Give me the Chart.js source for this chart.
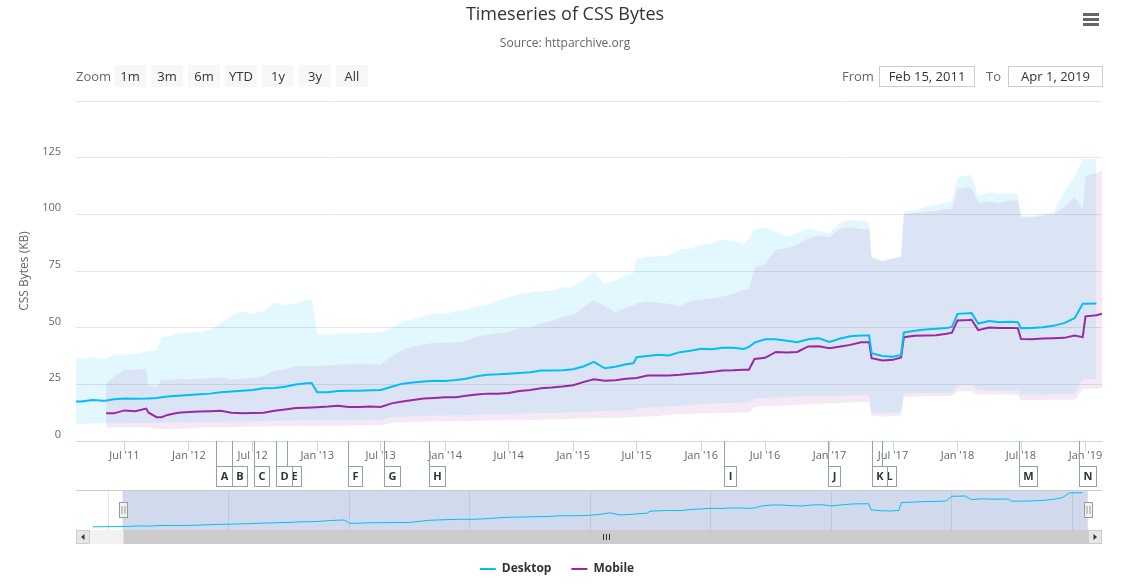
<!DOCTYPE html>
<html>
<head>
<meta charset="utf-8">
<script src="https://cdn.jsdelivr.net/npm/chart.js@4.4.1/dist/chart.umd.min.js"></script>
<style>
html,body{margin:0;padding:0;background:#fff;}
#wrap{position:relative;width:1130px;height:584px;overflow:hidden;font-family:'Open Sans',sans-serif;}
#main{position:absolute;left:0;top:0;}
#nav{position:absolute;left:0;top:488px;}
.btn{position:absolute;top:65px;height:22px;line-height:22px;width:32px;background:#f7f7f7;color:#333;font-size:13px;text-align:center;}
.lbl{position:absolute;top:65px;height:22px;line-height:22px;color:#666;font-size:13px;}
.inp{position:absolute;top:66px;height:19px;line-height:19px;border:1px solid #cccccc;color:#333;font-size:13px;text-align:center;background:#fff;}
.bar{position:absolute;left:1083px;width:16px;height:3px;background:#666;}
</style>
</head>
<body>
<div id="wrap">
  <canvas id="main" width="1130" height="584"></canvas>
  <canvas id="nav" width="1130" height="58"></canvas>
  <div class="lbl" style="left:76px;">Zoom</div>
  <div class="btn" style="left:114px;">1m</div>
  <div class="btn" style="left:151px;">3m</div>
  <div class="btn" style="left:188px;">6m</div>
  <div class="btn" style="left:225px;">YTD</div>
  <div class="btn" style="left:262px;">1y</div>
  <div class="btn" style="left:299px;">3y</div>
  <div class="btn" style="left:336px;">All</div>
  <div class="lbl" style="left:842px;">From</div>
  <div class="inp" style="left:879px;width:94px;">Feb 15, 2011</div>
  <div class="lbl" style="left:986px;">To</div>
  <div class="inp" style="left:1008px;width:93px;">Apr 1, 2019</div>
  <div class="bar" style="top:13px;"></div>
  <div class="bar" style="top:18px;"></div>
  <div class="bar" style="top:23px;"></div>
</div>
<script>
// ---------------- DATA ----------------
const dates = [
 '2010-11-15','2010-12-15','2011-01-15','2011-02-01','2011-03-01','2011-04-01','2011-05-01','2011-05-10',
 '2011-06-01','2011-07-01','2011-08-01','2011-09-01','2011-09-08','2011-10-01','2011-10-15','2011-11-01','2011-12-01',
 '2012-01-01','2012-02-01','2012-03-01','2012-04-01','2012-05-01','2012-06-01','2012-07-01','2012-08-01',
 '2012-09-01','2012-10-01','2012-11-01','2012-12-01','2012-12-16',
 '2013-01-01','2013-02-01','2013-03-01','2013-04-01','2013-05-01','2013-06-01','2013-07-01','2013-08-01',
 '2013-09-01','2013-10-01','2013-11-01','2013-12-01',
 '2014-01-01','2014-02-01','2014-03-01','2014-04-01','2014-05-01','2014-06-01','2014-07-01','2014-08-01',
 '2014-09-01','2014-10-01','2014-11-01','2014-12-01',
 '2015-01-01','2015-02-01','2015-03-01','2015-04-01','2015-05-01','2015-06-01','2015-06-22','2015-07-01',
 '2015-08-01','2015-09-01','2015-10-01','2015-11-01','2015-12-01',
 '2016-01-01','2016-02-01','2016-03-01','2016-04-01','2016-05-01','2016-05-16','2016-06-01','2016-07-01',
 '2016-08-01','2016-09-01','2016-10-01','2016-11-01','2016-12-01',
 '2017-01-01','2017-02-01','2017-03-01','2017-04-01','2017-04-24','2017-05-01','2017-06-01','2017-07-01',
 '2017-07-24','2017-08-01','2017-09-01','2017-10-01','2017-11-01','2017-12-01','2017-12-16',
 '2018-01-01','2018-02-01','2018-02-10','2018-03-01','2018-04-01','2018-05-01','2018-06-01','2018-06-22',
 '2018-07-01','2018-08-01','2018-09-01','2018-10-01','2018-11-01','2018-12-01','2018-12-24',
 '2019-01-01','2019-02-01','2019-02-17'
];
const desktopMedian = [
 16.8,17.0,17.2,17.4,17.4,18.1,17.8,17.9,
 18.4,18.7,18.6,18.7,18.8,19.0,19.3,19.6,20.0,
 20.3,20.6,20.9,21.5,21.8,22.2,22.5,23.3,
 23.4,23.9,24.9,25.5,25.6,
 21.5,21.5,22.1,22.2,22.2,22.4,22.5,23.9,
 25.3,25.8,26.2,26.6,
 26.5,26.9,27.5,28.6,29.2,29.4,29.7,30.0,
 30.3,31.1,31.1,31.2,
 31.7,33.0,34.9,32.1,32.8,33.9,34.3,37.0,
 37.5,38.0,37.7,39.2,39.8,
 40.7,40.5,41.1,41.1,40.6,41.5,43.4,44.9,
 44.9,44.2,43.6,44.9,45.3,
 43.7,45.2,46.2,46.5,46.5,38.7,37.5,37.2,
 38.0,47.9,48.6,49.2,49.5,49.8,50.3,
 56.1,56.4,56.5,51.8,52.9,52.4,52.6,52.4,
 49.8,49.9,50.2,50.8,52.0,54.2,60.5,
 60.5,60.7,null
];
const mobileMedian = [
 null,null,null,null,null,null,null,12.2,
 12.2,13.5,13.1,14.3,12.5,10.5,10.5,11.5,12.5,
 12.8,13.0,13.1,13.3,12.5,12.2,12.4,12.5,
 13.3,13.9,14.6,14.7,14.8,
 14.9,15.2,15.6,15.0,15.0,15.2,15.0,16.6,
 17.4,18.1,18.7,19.0,
 19.3,19.3,20.0,20.5,20.9,20.9,21.2,22.1,
 22.5,23.3,23.6,24.0,
 24.6,26.1,27.2,26.6,26.8,27.5,27.7,27.8,
 28.9,28.9,28.9,29.2,29.7,
 30.0,30.5,31.1,31.2,31.4,31.4,36.2,36.7,
 39.3,39.0,39.3,41.7,41.8,
 40.9,41.7,42.4,43.6,43.6,36.5,35.5,35.8,
 36.8,45.8,46.4,46.5,46.7,47.3,47.8,
 53.2,53.4,53.5,48.9,50.1,49.8,49.9,49.8,
 45.0,44.9,45.2,45.3,45.5,46.5,45.8,
 55.0,55.5,56.1
];
const desktopP10 = [
 7.2,7.3,7.4,7.5,7.6,7.7,7.7,7.7,
 7.8,7.8,7.9,7.9,7.9,8.0,8.0,8.0,8.1,
 8.2,8.3,8.3,8.4,8.5,8.5,8.6,8.7,
 8.8,8.9,9.0,9.1,9.1,
 9.1,9.2,9.2,9.3,9.3,9.4,9.4,10.4,
 10.7,10.9,11.0,11.2,
 11.3,11.4,11.5,11.6,11.7,11.8,11.9,12.0,
 12.2,12.3,12.4,12.5,
 12.7,12.8,13.0,13.2,13.4,13.6,13.8,14.5,
 14.8,15.0,15.3,15.6,15.9,
 16.4,16.5,16.6,16.8,17.0,17.1,18.8,19.0,
 19.2,19.4,19.6,19.7,19.8,
 19.9,20.0,20.1,20.2,20.2,12.5,12.3,12.6,
 12.8,21.0,21.0,21.1,21.2,21.3,21.3,
 24.6,24.6,24.6,22.5,22.3,22.3,22.2,22.2,
 20.6,20.6,20.6,20.7,20.8,21.0,27.2,
 27.2,27.2,null
];
const desktopP90 = [
 35.0,35.5,36.0,36.6,36.2,37.0,36.4,36.6,
 37.8,38.3,38.4,39.5,39.6,40.0,46.0,46.1,47.3,
 47.9,48.0,49.0,52.0,55.4,57.1,56.1,57.4,
 61.1,59.8,60.8,62.3,62.4,
 47.3,46.8,47.7,47.3,47.6,47.7,48.0,49.8,
 52.7,53.7,55.2,56.4,
 56.2,57.1,58.0,59.3,60.1,61.8,63.3,64.8,
 65.5,66.1,66.3,67.6,
 68.3,71.3,74.4,69.3,70.8,73.3,74.1,80.2,
 81.4,81.4,81.7,84.7,84.8,
 86.6,87.2,88.8,88.3,86.9,89.5,93.2,94.4,
 92.3,90.3,91.8,93.9,92.5,
 91.8,96.4,97.6,97.2,97.0,81.4,79.5,80.7,
 81.5,101.3,101.7,103.2,104.3,105.3,105.8,
 116.2,117.3,117.0,108.2,109.7,109.1,109.4,109.0,
 99.5,99.1,100.3,100.9,110.0,116.8,124.4,
 124.4,124.4,null
];
const mobileP10 = [
 null,null,null,null,null,null,null,6.0,
 6.0,6.1,6.1,6.2,6.0,5.4,5.3,5.3,5.4,
 5.5,6.0,6.1,6.2,6.2,6.3,6.4,6.4,
 6.5,6.5,6.6,6.6,6.6,
 6.6,6.7,6.7,6.8,6.8,6.9,6.9,8.0,
 8.2,8.4,8.5,8.6,
 8.7,8.8,8.8,8.9,9.0,9.0,9.1,9.2,
 9.3,9.4,9.5,9.6,
 9.8,9.9,10.0,10.2,10.3,10.4,10.5,10.6,
 10.8,11.0,11.6,11.8,12.0,
 12.2,12.3,12.4,12.5,12.6,12.7,15.0,15.3,
 15.5,15.7,16.0,16.2,16.4,
 16.6,16.8,17.0,17.2,17.2,11.0,10.8,11.0,
 11.2,19.5,19.6,19.7,19.8,19.9,19.9,
 22.0,22.0,22.0,20.5,20.5,20.5,20.5,20.5,
 18.1,18.1,18.1,18.2,18.2,18.3,23.0,
 23.0,23.2,23.4
];
const mobileP90 = [
 null,null,null,null,null,null,null,25.5,
 28.4,31.4,31.4,31.9,24.0,24.0,26.9,26.9,27.5,
 27.2,27.5,27.8,28.1,27.2,27.5,28.0,28.7,
 31.1,31.6,33.0,33.1,33.1,
 33.1,33.4,33.6,33.9,34.0,33.9,33.7,37.5,
 40.1,41.7,42.6,43.4,
 43.4,43.6,44.0,46.1,46.8,47.5,48.1,49.8,
 49.9,52.1,52.9,54.9,
 55.5,59.3,62.1,59.6,56.7,58.9,59.8,60.8,
 61.5,61.1,60.5,59.6,61.8,
 62.4,63.0,63.8,64.9,66.7,67.0,76.7,78.2,
 84.4,85.0,86.6,89.4,90.5,
 90.0,93.8,94.4,93.5,93.4,81.0,79.2,80.4,
 81.2,100.1,100.6,101.1,101.6,102.3,102.5,
 111.2,111.9,111.5,105.0,105.7,105.0,106.2,106.0,
 98.8,98.6,99.4,100.1,103.2,107.5,102.5,
 117.0,118.2,119.4
];
const xMin = '2011-02-13';
const xMax = '2019-02-17';
const xTickDates = ['2011-07-01','2012-01-01','2012-07-01','2013-01-01','2013-07-01','2014-01-01','2014-07-01','2015-01-01',
 '2015-07-01','2016-01-01','2016-07-01','2017-01-01','2017-07-01','2018-01-01','2018-07-01','2019-01-01'];
const xTickLabels = ["Jul '11","Jan '12","Jul '12","Jan '13","Jul '13","Jan '14","Jul '14","Jan '15",
 "Jul '15","Jan '16","Jul '16","Jan '17","Jul '17","Jan '18","Jul '18","Jan '19"];
const yTickValues = [0,25,50,75,100,125,150];
const yTickLabels = ['0','25','50','75','100','125',''];
const flagDates = ['2012-03-19','2012-05-03','2012-07-05','2012-09-06','2012-10-06','2013-03-29','2013-07-10',
 '2013-11-17','2016-03-06','2016-12-28','2017-05-02','2017-05-31','2018-06-25','2018-12-14'];
const flagLetters = ['A','B','C','D','E','F','G','H','I','J','K','L','M','N'];
const navMin = '2010-09-25';
const navMax = '2019-04-01';
const navTickDates = ['2011-01-01','2012-01-01','2013-01-01','2014-01-01','2015-01-01','2016-01-01','2017-01-01','2018-01-01','2019-01-01'];
const navTickLabels = ['2011','2012','2013','2014','2015','2016','2017','2018','2…'];

// ---------------- STYLE ----------------
const F = "'Open Sans', sans-serif";
const cDesk = '#00bff3';
const cMob = '#9c27a0';
const parse = d => Date.parse(d + 'T00:00:00Z');
const X = dates.map(parse);
const pts = arr => arr.map((v, i) => ({x: X[i], y: v}));

const flagPlugin = {
  id: 'flags',
  afterLayout(chart) {
    // legend items sit slightly left of centre, as in the original
    const lg = chart.legend;
    if (lg) { lg.left -= 8; lg.right -= 8; }
  },
  afterDraw(chart) {
    const {ctx, chartArea} = chart;
    const xs = chart.scales.x;
    const top = chartArea.bottom + 25.5;
    ctx.save();
    ctx.font = "bold 11px " + F;
    for (let k = flagDates.length - 1; k >= 0; k--) {
      const px = Math.round(xs.getPixelForValue(parse(flagDates[k]))) + 0.5;
      const w = Math.round(ctx.measureText(flagLetters[k]).width) + 8;
      ctx.strokeStyle = '#8aa5ab';
      ctx.lineWidth = 1;
      ctx.beginPath(); ctx.moveTo(px, chartArea.bottom); ctx.lineTo(px, top); ctx.stroke();
      ctx.fillStyle = '#ffffff';
      ctx.fillRect(px, top, w, 20);
      ctx.strokeRect(px, top, w, 20);
      ctx.fillStyle = '#333333';
      ctx.textAlign = 'center'; ctx.textBaseline = 'middle';
      ctx.fillText(flagLetters[k], px + w / 2, top + 10.5);
    }
    ctx.restore();
  }
};

new Chart(document.getElementById('main'), {
  type: 'line',
  data: {
    datasets: [
      {label: 'Desktop', data: pts(desktopMedian), borderColor: cDesk, backgroundColor: cDesk, borderWidth: 2, fill: false},
      {label: 'Mobile', data: pts(mobileMedian), borderColor: cMob, backgroundColor: cMob, borderWidth: 2, fill: false},
      {label: 'Desktop 90th', data: pts(desktopP90), borderWidth: 0, borderColor: 'rgba(0,0,0,0)', backgroundColor: 'rgba(0,191,243,0.11)', fill: '+1'},
      {label: 'Desktop 10th', data: pts(desktopP10), borderWidth: 0, borderColor: 'rgba(0,0,0,0)', fill: false},
      {label: 'Mobile 90th', data: pts(mobileP90), borderWidth: 0, borderColor: 'rgba(0,0,0,0)', backgroundColor: 'rgba(156,39,160,0.10)', fill: '+1'},
      {label: 'Mobile 10th', data: pts(mobileP10), borderWidth: 0, borderColor: 'rgba(0,0,0,0)', fill: false}
    ]
  },
  options: {
    responsive: false, animation: false, events: [],
    elements: {point: {radius: 0}, line: {tension: 0}},
    layout: {padding: {left: 0, right: 0, top: 0, bottom: -1}},
    scales: {
      x: {
        type: 'linear', min: parse(xMin), max: parse(xMax),
        afterBuildTicks: s => { s.ticks = xTickDates.map(d => ({value: parse(d)})); },
        afterFit: s => { s.height = 102; },
        grid: {drawOnChartArea: false, drawTicks: true, tickLength: 10, color: '#ccd6eb'},
        border: {display: true, color: '#ccd6eb'},
        ticks: {autoSkip: false, maxRotation: 0, padding: -2, color: '#666666', font: {size: 11, family: F},
          callback: (v, i) => xTickLabels[i]}
      },
      y: {
        position: 'left', min: 0, max: 150,
        afterBuildTicks: s => { s.ticks = yTickValues.map(v => ({value: v})); },
        afterFit: s => { s.width = 76; },
        grid: {color: '#e6e6e6', drawTicks: false},
        border: {display: false},
        ticks: {padding: 15, labelOffset: -6, color: '#666666', font: {size: 11, family: F},
          callback: (v, i) => yTickLabels[i]},
        title: {display: true, text: 'CSS Bytes (KB)', color: '#666666', font: {size: 12, family: F}, padding: {top: 17, bottom: 0}}
      },
      yR: {
        position: 'right', display: true,
        afterFit: s => { s.width = 28; },
        grid: {display: false}, border: {display: false}, ticks: {display: false}
      }
    },
    plugins: {
      title: {display: true, text: 'Timeseries of CSS Bytes', color: '#333333', font: {size: 18, weight: 'normal', family: F}, padding: {top: 4, bottom: 4}},
      subtitle: {display: true, text: 'Source: httparchive.org', color: '#666666', font: {size: 12, weight: 'normal', family: F}, padding: {top: 7, bottom: 50}},
      legend: {
        position: 'bottom',
        labels: {usePointStyle: true, pointStyle: 'line', pointStyleWidth: 16, padding: 20, color: '#333333',
          font: {size: 12, weight: 'bold', family: F}, filter: item => item.datasetIndex < 2}
      },
      tooltip: {enabled: false}
    }
  },
  plugins: [flagPlugin]
});

const navPlugin = {
  id: 'navparts',
  beforeDatasetsDraw(chart) {
    const {ctx, chartArea} = chart;
    const xs = chart.scales.x;
    const a = xs.getPixelForValue(parse(xMin)), b = xs.getPixelForValue(parse(xMax));
    ctx.save();
    ctx.fillStyle = 'rgba(102,133,194,0.3)';
    ctx.fillRect(a, chartArea.top, b - a, chartArea.bottom - chartArea.top);
    ctx.restore();
  },
  afterDatasetsDraw(chart) {
    const {ctx, chartArea} = chart;
    const xs = chart.scales.x;
    const a = Math.round(xs.getPixelForValue(parse(xMin))) + 0.5;
    const b = Math.round(xs.getPixelForValue(parse(xMax))) + 0.5;
    const L = chartArea.left, R = chartArea.right, T = chartArea.top, B = chartArea.bottom;
    ctx.save();
    ctx.strokeStyle = '#cccccc'; ctx.lineWidth = 1;
    ctx.beginPath(); ctx.moveTo(L, T + 0.5); ctx.lineTo(R, T + 0.5); ctx.stroke();
    const sy = B, sh = 14;
    ctx.fillStyle = '#f2f2f2'; ctx.fillRect(L, sy, R - L, sh);
    ctx.fillStyle = '#cccccc'; ctx.fillRect(a, sy, b - a, sh);
    ctx.fillStyle = '#e6e6e6'; ctx.strokeStyle = '#cccccc';
    ctx.fillRect(L, sy, 14, sh); ctx.strokeRect(L + 0.5, sy + 0.5, 13, sh - 1);
    ctx.fillRect(R - 14, sy, 14, sh); ctx.strokeRect(R - 13.5, sy + 0.5, 13, sh - 1);
    ctx.fillStyle = '#333333';
    ctx.beginPath(); ctx.moveTo(L + 8.5, sy + 4); ctx.lineTo(L + 8.5, sy + 10); ctx.lineTo(L + 5, sy + 7); ctx.closePath(); ctx.fill();
    ctx.beginPath(); ctx.moveTo(R - 8.5, sy + 4); ctx.lineTo(R - 8.5, sy + 10); ctx.lineTo(R - 5, sy + 7); ctx.closePath(); ctx.fill();
    const cx = Math.round((a + b) / 2) + 0.5;
    ctx.strokeStyle = '#333333';
    [-3, 0, 3].forEach(d => { ctx.beginPath(); ctx.moveTo(cx + d, sy + 4); ctx.lineTo(cx + d, sy + 10); ctx.stroke(); });
    [a, b].forEach(h => {
      ctx.fillStyle = '#f2f2f2'; ctx.strokeStyle = '#999999';
      ctx.fillRect(h - 4, T + 12.5, 8, 15); ctx.strokeRect(h - 4, T + 12.5, 8, 15);
      ctx.beginPath(); ctx.moveTo(h - 1.5, T + 16); ctx.lineTo(h - 1.5, T + 24); ctx.moveTo(h + 1.5, T + 16); ctx.lineTo(h + 1.5, T + 24); ctx.stroke();
    });
    ctx.restore();
  }
};

new Chart(document.getElementById('nav'), {
  type: 'line',
  data: {datasets: [{data: pts(desktopMedian), borderColor: cDesk, borderWidth: 1, fill: false}]},
  options: {
    responsive: false, animation: false, events: [],
    elements: {point: {radius: 0}, line: {tension: 0}},
    layout: {padding: {left: 76, right: 28, top: 2, bottom: 16}},
    scales: {
      x: {
        type: 'linear', min: parse(navMin), max: parse(navMax),
        afterBuildTicks: s => { s.ticks = navTickDates.map(d => ({value: parse(d)})); },
        afterFit: s => { s.height = 0; },
        grid: {color: '#e6e6e6', drawTicks: false},
        border: {display: false},
        ticks: {autoSkip: false, maxRotation: 0, align: 'start', labelOffset: 3, padding: -15, color: '#999999',
          font: {size: 11, family: F}, callback: (v, i) => navTickLabels[i]}
      },
      y: {display: false, min: 12.8, max: 64.2}
    },
    plugins: {legend: {display: false}, title: {display: false}, tooltip: {enabled: false}}
  },
  plugins: [navPlugin]
});
</script>
</body>
</html>
